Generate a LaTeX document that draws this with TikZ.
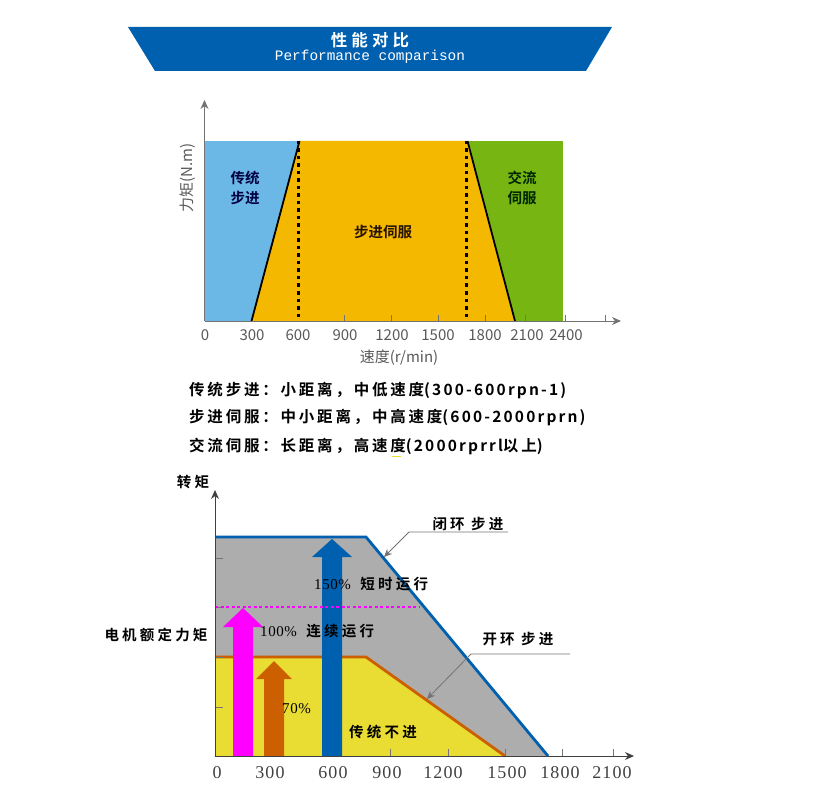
\documentclass[tikz,border=0pt]{standalone}
\usepackage{fontspec}
\usetikzlibrary{arrows.meta}
\setmainfont{Liberation Serif}
\newfontfamily\cjk[BoldFont={Noto Sans CJK SC Bold}]{Noto Sans CJK SC}
\newfontfamily\cjktitle[LetterSpace=25]{Noto Sans CJK SC Bold}
\newfontfamily\cjkwide[LetterSpace=22]{Noto Sans CJK SC Bold}
\newfontfamily\cjkline[LetterSpace=18]{Noto Sans CJK SC Bold}
\newfontfamily\cjklatin[LetterSpace=14]{Noto Sans CJK SC Bold}
\newfontfamily\latinwide[LetterSpace=4]{Liberation Serif}
\newfontfamily\latintick[LetterSpace=6]{Liberation Serif}
\newfontfamily\bannerlatin{Liberation Mono}
\definecolor{bannerblue}{HTML}{0060B0}
\definecolor{stepblue}{HTML}{6BB7E6}
\definecolor{servoamber}{HTML}{F5B800}
\definecolor{acgreen}{HTML}{76B512}
\definecolor{regiongray}{HTML}{ADADAD}
\definecolor{regionyellow}{HTML}{E9DC33}
\definecolor{limitorange}{HTML}{CC6000}
\definecolor{ratedpink}{HTML}{FF00FF}
\tikzset{
  axisline/.style={draw=black!55, line width=1pt, -{Stealth[length=9pt,width=8pt]}},
  tickline/.style={draw=black!55, line width=0.7pt},
  ticklabel/.style={font=\cjk\fontsize{15}{15}\selectfont, text=black!65, inner sep=0pt},
  regionlabel/.style={font=\cjk\bfseries\fontsize{14.5}{15}\selectfont, text=black!80, inner sep=0pt},
  speclabel/.style={font=\cjkline\fontsize{15.5}{16}\selectfont, anchor=west, inner sep=0pt},
  brushlabel/.style={font=\cjkwide\fontsize{14.5}{15}\selectfont, inner sep=0pt},
  bottomtick/.style={font=\latintick\fontsize{18}{18}\selectfont, text=black!75, inner sep=0pt},
  leader/.style={draw=black!55, line width=0.8pt, -{Stealth[length=8pt,width=7pt]}},
  limitdash/.style={dash pattern=on 3.5pt off 4pt, line width=2.6pt},
}
\newcommand{\uparrowshape}[6]{\fill[#1] (#2,756) -- (#2,#5) -- (#2-#6,#5) -- ({(#2+#3)/2},#4) -- (#3+#6,#5) -- (#3,#5) -- (#3,756) -- cycle;}
\begin{document}
\begin{tikzpicture}[x=1pt,y=-1pt]
    \useasboundingbox (0,0) rectangle (831,797);
    % banner
    \fill[bannerblue] (128,27) -- (612,27) -- (586,71) -- (155,71) -- cycle;
    \node[font=\cjktitle\fontsize{16.5}{17}\selectfont, text=white, inner sep=0pt] (bannertitle) at (370,40) {性能对比};
    \node[font=\bannerlatin\fontsize{14.4}{14.4}\selectfont, text=white, inner sep=0pt] (bannersub) at (370,57) {Performance comparison};

    % upper chart
    \fill[stepblue] (204.5,141) rectangle (300,321);
    \fill[acgreen] (467,141) rectangle (562.5,321);
    \fill[servoamber] (299.5,141) -- (467.5,141) -- (515,321) -- (251.5,321) -- cycle;
    \draw[line width=1.8pt] (251.5,321) -- (299.5,141);
    \draw[line width=1.8pt] (467.5,141) -- (515,321);
    \draw[limitdash] (298.7,141) -- (298.7,321);
    \draw[limitdash] (466.5,141) -- (466.5,321);
    \coordinate (upperorigin) at (204.5,321);
    \coordinate (uppery) at (204.5,100);
    \coordinate (upperx) at (621,321);
    \draw[axisline] (upperorigin) -- (uppery);
    \draw[axisline] (upperorigin) -- (upperx);
    \foreach \tx in {344.7,391.7,438,485,525,565,605}
        \draw[tickline] (\tx,321) -- (\tx,315);
    \foreach \lx/\lab in {205/0,252/300,298/600,345/900,392/1200,438/1500,485/1800,527/2100,566/2400}
        \node[ticklabel] (upper\lab) at (\lx,335) {\lab};
    \node[ticklabel] (upperxname) at (399,358) {速度(r/min)};
    \node[ticklabel, rotate=90] (upperyname) at (188,178) {力矩(N.m)};
    \node[regionlabel, text=black!75!blue] (steplabela) at (245,178) {传统};
    \node[regionlabel, text=black!75!blue] (steplabelb) at (245,198) {步进};
    \node[regionlabel, text=black!85!green] (aclabela) at (522,178) {交流};
    \node[regionlabel, text=black!85!green] (aclabelb) at (522,198) {伺服};
    \node[regionlabel, text=black!85!orange] (servolabel) at (383,232) {步进伺服};

    % spec lines
    \node[speclabel] (specstep) at (189,391) {传统步进：小距离，中低速度{\cjklatin (300-600rpn-1)}};
    \node[speclabel] (specservo) at (189,418) {步进伺服：中小距离，中高速度{\cjklatin (600-2000rprn)}};
    \node[speclabel] (specac) at (189,446) {交流伺服：长距离，高速度{\cjklatin (2000rprrl}以上{\cjklatin )}};
    \draw[regionyellow, line width=1pt] (392,456.5) -- (401,456.5);

    % lower chart
    \fill[regiongray] (215,537) -- (366,537) -- (548,756) -- (215,756) -- cycle;
    \fill[regionyellow] (215,657) -- (366,657) -- (505,756) -- (215,756) -- cycle;
    \draw[bannerblue, line width=2.8pt] (215,537) -- (366,537) -- (548,756);
    \draw[limitorange, line width=2.8pt] (215,657) -- (366,657) -- (505,756);
    \foreach \ty in {558,607,657,707}
        \draw[tickline] (215,\ty) -- (223,\ty);
    \foreach \tx in {275,331,390,448,505,562,613}
        \draw[tickline] (\tx,756) -- (\tx,749);
    \uparrowshape{bannerblue}{322}{342}{539}{557}{10}
    \uparrowshape{ratedpink}{233}{253}{608}{627}{10}
    \uparrowshape{limitorange}{264}{284}{661}{679}{8}
    \draw[ratedpink, dash pattern=on 3pt off 2.5pt, line width=1.2pt] (215,607) -- (420,607);
    \coordinate (lowerorigin) at (215,756);
    \coordinate (lowery) at (215,490);
    \coordinate (lowerx) at (634,756);
    \draw[axisline, draw=black!75] (lowerorigin) -- (lowery);
    \draw[axisline, draw=black!75] (lowerorigin) -- (lowerx);
    \foreach \lx/\lab in {217/0,270/300,333/600,387/900,443/1200,507/1500,560/1800,612/2100}
        \node[bottomtick] (lower\lab) at (\lx,773) {\lab};
    \node[brushlabel] (lowerymark) at (193,482) {转矩};
    \node[brushlabel] (ratedlabel) at (156,635) {电机额定力矩};
    \node[brushlabel, anchor=west] (shortrun) at (314,584) {{\latinwide\fontsize{15}{15}\selectfont 150\%}\hspace{3pt} 短时运行};
    \node[brushlabel, anchor=west] (contrun) at (260,631) {{\latinwide\fontsize{15}{15}\selectfont 100\%}\hspace{3pt} 连续运行};
    \node[anchor=west, inner sep=0pt, font=\latinwide\fontsize{15}{15}\selectfont] (seventy) at (282,709) {70\%};
    \node[brushlabel] (tradlabel) at (383,732) {传统不进};
    \node[brushlabel] (closedlabel) at (468,524) {闭环 步进};
    \node[brushlabel] (openlabel) at (518,639) {开环 步进};
    \coordinate (closedend) at (508,532);
    \coordinate (closedbend) at (409,532);
    \coordinate (closedtip) at (384,557);
    \coordinate (openend) at (570,654);
    \coordinate (openbend) at (471,654);
    \coordinate (opentip) at (427,699);
    \draw[leader] (closedend) -- (closedbend) -- (closedtip);
    \draw[leader] (openend) -- (openbend) -- (opentip);
\end{tikzpicture}
\end{document}
